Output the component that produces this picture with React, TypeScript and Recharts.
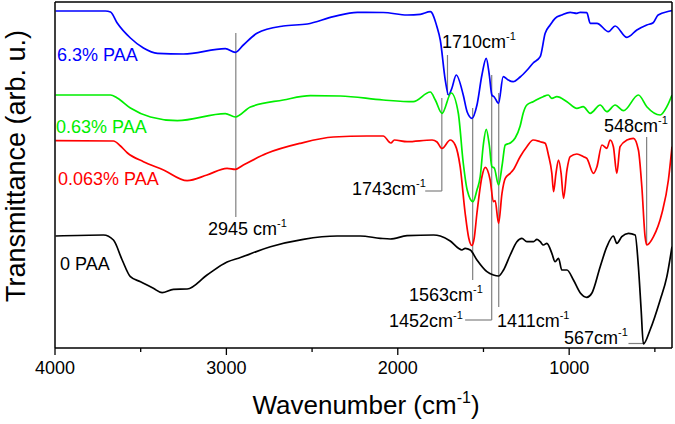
import React from "react";
import { LineChart, Line, XAxis, YAxis, ReferenceLine } from "recharts";

const W = 675;
const H = 424;
const FONT = "'Liberation Sans', Arial, Helvetica, sans-serif";

// [wavenumber cm-1, transmittance (arb. u., curves stacked by offset)]
const PAA_6_3: [number, number][] = [
  [3997, 337], [3706, 337], [3676, 336], [3637, 325], [3560, 310], [3484, 300],
  [3402, 294.7], [3251, 294], [3006, 299.3], [2948, 295.7], [2901, 303], [2819, 315],
  [2668, 322], [2528, 324], [2376, 331.3], [2236, 335.7], [2085, 335.5], [1945, 333],
  [1869, 333.7], [1810, 336.3], [1771, 321], [1752, 308], [1723, 268], [1704, 253],
  [1684, 260], [1659, 273], [1618, 253], [1595, 236], [1567, 229.7], [1538, 243],
  [1509, 273], [1484, 289.7], [1466, 273], [1451, 253], [1437, 251], [1412, 244.7],
  [1385, 271.3], [1356, 268], [1327, 266.3], [1286, 271], [1245, 278], [1210, 285],
  [1169, 291.3], [1140, 314.7], [1111, 323], [1082, 329.7], [1043, 333], [994, 335.7],
  [955, 334.7], [936, 335.7], [897, 335.3], [877, 324.7], [838, 324.7], [770, 316.3],
  [732, 322], [663, 310.7], [605, 318], [547, 323], [510, 325.3], [481, 333],
  [411, 337], [400, 337.5],
];

const PAA_0_63: [number, number][] = [
  [3997, 253], [3676, 253], [3637, 250], [3560, 240], [3443, 231], [3286, 227.3],
  [3006, 234.3], [2948, 231], [2860, 241], [2668, 248], [2510, 252.3], [2335, 252],
  [2085, 248], [1910, 246.3], [1810, 256], [1781, 248], [1742, 234.7], [1688, 255],
  [1647, 235], [1618, 185], [1595, 158], [1561, 146.3], [1538, 158], [1519, 171.3],
  [1501, 203], [1484, 218.7], [1466, 203], [1451, 181.3], [1437, 180], [1412, 163],
  [1391, 183], [1373, 203], [1344, 205], [1315, 210], [1286, 222], [1268, 235],
  [1247, 243], [1210, 246.3], [1152, 251.3], [1122, 253], [1101, 249.7], [1072, 251.3],
  [1013, 246.3], [955, 239.7], [918, 241.3], [877, 234.7], [819, 243], [780, 236.3],
  [732, 243], [683, 237.3], [596, 253], [547, 241.3], [469, 233], [430, 241.3],
  [400, 253],
];

const PAA_0_063: [number, number][] = [
  [3997, 207.3], [3659, 207], [3618, 202], [3577, 195], [3484, 186.3], [3367, 178],
  [3229, 167.3], [3113, 173], [2996, 179.7], [2948, 178.7], [2901, 183], [2763, 194.7],
  [2569, 204.7], [2376, 211], [2180, 212], [2085, 212], [2040, 205], [2020, 208],
  [1946, 206.3], [1800, 208], [1771, 206], [1742, 199.5], [1694, 208], [1665, 203],
  [1636, 181.3], [1607, 135], [1586, 110], [1567, 102.5], [1554, 110], [1538, 135],
  [1509, 171.3], [1490, 180.7], [1461, 168], [1442, 146.3], [1432, 147.3], [1412, 124.7],
  [1392, 154.7], [1373, 169.7], [1344, 174.7], [1327, 178], [1286, 191.3], [1247, 201.3],
  [1210, 208], [1169, 206.3], [1140, 204.7], [1121, 193], [1101, 174.7], [1091, 156.3],
  [1077, 174.7], [1062, 188], [1047, 174.7], [1033, 149.7], [1013, 178], [994, 191.3],
  [955, 194], [916, 191.3], [897, 189.7], [858, 174.7], [838, 181.3], [809, 203],
  [780, 199.7], [761, 208], [742, 201.3], [722, 174.7], [703, 201.3], [663, 208],
  [625, 209.7], [596, 198], [576, 161.3], [557, 111.3], [547, 103], [508, 111.3],
  [459, 134.7], [421, 168], [400, 201.3],
];

const PAA_0: [number, number][] = [
  [3997, 112], [3717, 113], [3659, 108], [3608, 88], [3560, 71.3], [3501, 66.3],
  [3426, 59.7], [3375, 55.3], [3309, 58.7], [3229, 59], [3113, 73], [2996, 86],
  [2918, 90.5], [2743, 101.3], [2551, 108.7], [2354, 112], [2219, 112], [2102, 109.7],
  [2044, 109], [1946, 112.3], [1791, 113], [1752, 112], [1694, 107], [1646, 99.7],
  [1626, 98], [1607, 99.7], [1577, 98], [1538, 88], [1480, 76.3], [1442, 73],
  [1412, 72], [1383, 78], [1344, 93], [1305, 106.3], [1276, 109.7], [1247, 106.3],
  [1208, 106.3], [1188, 108.7], [1169, 106.3], [1150, 103], [1130, 104.7], [1101, 94.7],
  [1082, 86.3], [1062, 89.7], [1043, 78], [1013, 78], [975, 68], [936, 55.3],
  [897, 50.7], [868, 54.7], [819, 81.3], [780, 101.3], [742, 112], [722, 104.7],
  [693, 111.3], [654, 114.7], [615, 113], [596, 81.3], [580, 38], [567, 4],
  [528, 18], [469, 48], [430, 71.3], [400, 101.3],
];

const SERIES = [
  { name: "6.3% PAA", color: "#0000ff", pts: PAA_6_3 },
  { name: "0.63% PAA", color: "#00ee00", pts: PAA_0_63 },
  { name: "0.063% PAA", color: "#ff0000", pts: PAA_0_063 },
  { name: "0 PAA", color: "#000000", pts: PAA_0 },
];

// peak markers: vertical drop lines and horizontal leaders to the labels
const PEAK_LINES = [
  { wn: 2945, t1: 315, t2: 131 },
  { wn: 1710, t1: 293, t2: 253 },
  { wn: 1743, t1: 250, t2: 157 },
  { wn: 1563, t1: 240, t2: 68 },
  { wn: 1452, t1: 273, t2: 28 },
  { wn: 1411, t1: 255, t2: 41 },
  { wn: 548, t1: 211, t2: 103 },
];
const LEADERS = [
  { wn1: 1743, wn2: 1840, t: 157 },
  { wn1: 1452, wn2: 1607, t: 28 },
  { wn1: 567, wn2: 654, t: 4.5 },
];

const X_TICKS = [4000, 3500, 3000, 2500, 2000, 1500, 1000, 500];
const X_DOMAIN = [400, 4000];
const Y_DOMAIN = [0, 346];

// text placement (px)
const SERIES_LABELS = [
  { text: "6.3% PAA", color: "#0000ff", x: 57, y: 60.5 },
  { text: "0.63% PAA", color: "#00ee00", x: 56, y: 133 },
  { text: "0.063% PAA", color: "#ff0000", x: 58, y: 185 },
  { text: "0 PAA", color: "#000000", x: 60, y: 269.5 },
];
const PEAK_LABELS = [
  { text: "2945 cm", x: 208, y: 235 },
  { text: "1710cm", x: 442, y: 48 },
  { text: "1743cm", x: 352, y: 195 },
  { text: "1563cm", x: 409, y: 300.5 },
  { text: "1452cm", x: 389, y: 327 },
  { text: "1411cm", x: 497, y: 327 },
  { text: "548cm", x: 604, y: 131.5 },
  { text: "567cm", x: 564, y: 344 },
];

const axisLine = { stroke: "#000", strokeWidth: 1.5 };

function WnTick(props: any) {
  const { x, y, payload } = props;
  const major = payload.value % 1000 === 0;
  return (
    <g>
      <line x1={x} x2={x} y1={y} y2={y + (major ? 7 : 4)} stroke="#000" strokeWidth={1.3} />
      {major && (
        <text x={x} y={y + 26} textAnchor="middle" fontSize={18} fill="#000" fontFamily={FONT}>
          {payload.value}
        </text>
      )}
    </g>
  );
}

export default function App() {
  return (
    <div style={{ position: "absolute", left: 0, top: 0, width: W, height: H, background: "#fff" }}>
      <LineChart
        width={W}
        height={H}
        margin={{ top: 1, right: 2, bottom: 46, left: 54 }}
        style={{ fontFamily: FONT }}
      >
        <XAxis
          type="number"
          dataKey="wn"
          domain={X_DOMAIN}
          reversed
          allowDataOverflow
          ticks={X_TICKS}
          interval={0}
          height={30}
          tickSize={0}
          tickMargin={0}
          tickLine={false}
          axisLine={axisLine}
          tick={<WnTick />}
        />
        <XAxis
          xAxisId="top"
          orientation="top"
          type="number"
          domain={X_DOMAIN}
          reversed
          height={1}
          tick={false}
          tickLine={false}
          axisLine={axisLine}
        />
        <YAxis type="number" domain={Y_DOMAIN} width={1} tick={false} tickLine={false} axisLine={axisLine} />
        <YAxis
          yAxisId="right"
          orientation="right"
          type="number"
          domain={Y_DOMAIN}
          width={1}
          tick={false}
          tickLine={false}
          axisLine={axisLine}
        />
        {PEAK_LINES.map((p) => (
          <ReferenceLine
            key={`v${p.wn}`}
            segment={[{ x: p.wn, y: p.t1 }, { x: p.wn, y: p.t2 }]}
            stroke="#808080"
            strokeWidth={1.2}
          />
        ))}
        {LEADERS.map((p) => (
          <ReferenceLine
            key={`h${p.wn1}`}
            segment={[{ x: p.wn1, y: p.t }, { x: p.wn2, y: p.t }]}
            stroke="#808080"
            strokeWidth={1.2}
          />
        ))}
        {SERIES.map((s) => (
          <Line
            key={s.name}
            name={s.name}
            data={s.pts.map(([wn, t]) => ({ wn, t }))}
            dataKey="t"
            type="monotone"
            stroke={s.color}
            strokeWidth={1.7}
            dot={false}
            activeDot={false}
            isAnimationActive={false}
          />
        ))}
      </LineChart>
      <svg
        width={W}
        height={H}
        style={{ position: "absolute", left: 0, top: 0, pointerEvents: "none", fontFamily: FONT }}
      >
        {SERIES_LABELS.map((l) => (
          <text key={l.text} x={l.x} y={l.y} fill={l.color} fontSize={18}>
            {l.text}
          </text>
        ))}
        {PEAK_LABELS.map((l) => (
          <text key={l.text} x={l.x} y={l.y} fill="#000" fontSize={18}>
            {l.text}
            <tspan fontSize={11} dy={-8}>-1</tspan>
          </text>
        ))}
        <text x={366} y={414} textAnchor="middle" fontSize={26} fill="#000">
          Wavenumber (cm
          <tspan fontSize={16} dy={-11}>-1</tspan>
          <tspan dy={11}>)</tspan>
        </text>
        <text
          transform="translate(25,166) rotate(-90)"
          textAnchor="middle"
          fontSize={27}
          fill="#000"
        >
          Transmittance (arb. u.)
        </text>
      </svg>
    </div>
  );
}
